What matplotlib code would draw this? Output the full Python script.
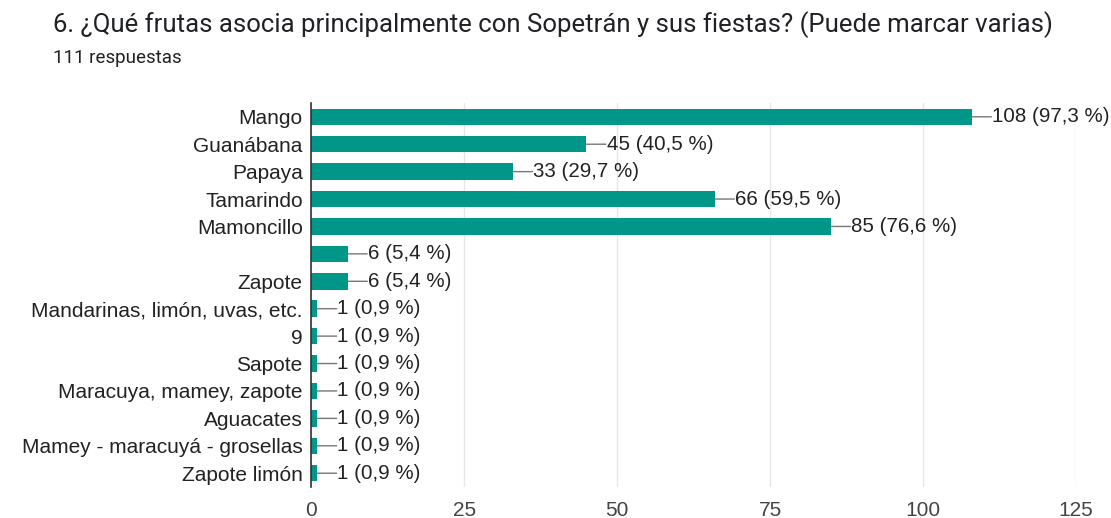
import matplotlib
matplotlib.use("Agg")
import matplotlib.pyplot as plt

categories = ["Mango", "Guanábana", "Papaya", "Tamarindo", "Mamoncillo", "",
              "Zapote", "Mandarinas, limón, uvas, etc.", "9", "Sapote",
              "Maracuya, mamey, zapote", "Aguacates", "Mamey - maracuyá - grosellas",
              "Zapote limón"]
counts = [108, 45, 33, 66, 85, 6, 6, 1, 1, 1, 1, 1, 1, 1]
percents = ["97,3", "40,5", "29,7", "59,5", "76,6", "5,4", "5,4",
            "0,9", "0,9", "0,9", "0,9", "0,9", "0,9", "0,9"]
xticks = [0, 25, 50, 75, 100, 125]

FONT = ["Liberation Sans", "DejaVu Sans"]

fig = plt.figure(figsize=(11.11, 5.18), dpi=100)
ax = fig.add_axes([0.28, 0.06, 0.6885, 0.741])

y = list(range(len(categories)))
ax.barh(y, counts, height=0.6, color="#009688", zorder=3)
ax.set_ylim(len(categories) - 0.5, -0.5)
ax.set_xlim(0, 125)
ax.set_yticks(y)
ax.set_yticklabels(categories, fontsize=15, family=FONT, color="#222222")
ax.set_xticks(xticks)
ax.set_xticklabels([str(t) for t in xticks], fontsize=15, family=FONT, color="#444444")
ax.tick_params(axis="y", length=0, pad=6)
ax.tick_params(axis="x", length=0, pad=10)
ax.grid(axis="x", color="#e6e6e6", lw=1, zorder=0)
for s in ["top", "right", "bottom"]:
    ax.spines[s].set_visible(False)
ax.spines["left"].set_color("#333333")
ax.spines["left"].set_linewidth(1.2)
ax.spines["left"].set_zorder(5)

for yi, c, p in zip(y, counts, percents):
    ax.annotate("", xy=(c, yi), xytext=(14, 0), textcoords="offset points",
                arrowprops=dict(arrowstyle="-", color="#777777", lw=1, shrinkA=0, shrinkB=0))
    ax.annotate(f"{c} ({p} %)", xy=(c, yi), xytext=(14.5, 0), textcoords="offset points",
                va="center", ha="left", fontsize=14.8, color="#222222", family=FONT)

fig.text(53 / 1111, 1 - 25 / 518, "6. ¿Qué frutas asocia principalmente con Sopetrán y sus fiestas? (Puede marcar varias)",
         fontsize=18.5, family=["Roboto", "DejaVu Sans"], color="#202124", va="center", ha="left")
fig.text(53 / 1111, 1 - 58 / 518, "111 respuestas", fontsize=13.5,
         family=["Roboto", "DejaVu Sans"], color="#202124", va="center", ha="left")

fig.savefig("out.png", dpi=100)
